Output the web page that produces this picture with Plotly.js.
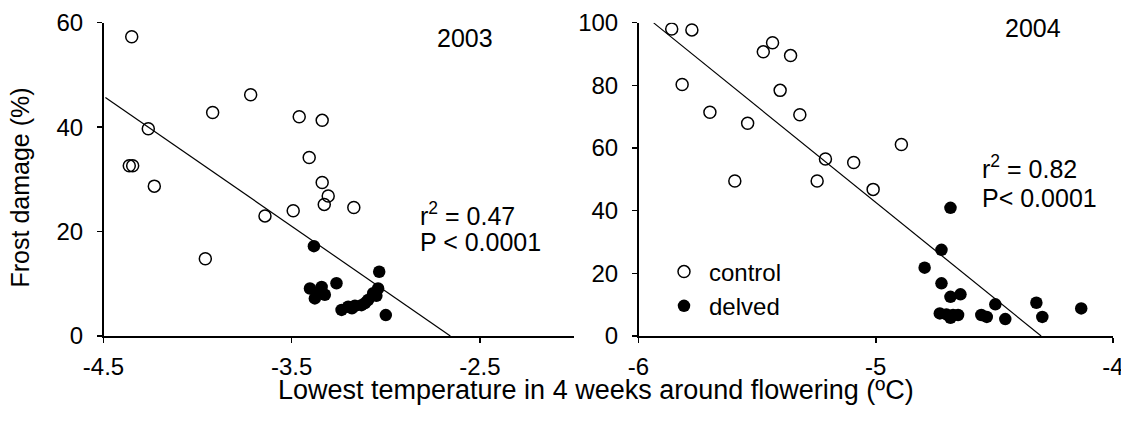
<!DOCTYPE html>
<html><head><meta charset="utf-8">
<script src="https://cdn.plot.ly/plotly-3.0.1.min.js"></script>
<style>html,body{margin:0;padding:0;background:#fff;} #chart{width:1121px;height:429px;}</style>
</head><body><div id="chart"></div>
<script>
// ---- data ----
const control2003X = [-4.35, -4.262, -4.363, -4.345, -4.23, -3.92, -3.718, -3.46, -3.338, -3.407, -3.338, -3.306, -3.327, -3.17, -3.492, -3.642, -3.959];
const control2003Y = [57.3, 39.7, 32.6, 32.6, 28.7, 42.8, 46.2, 42.0, 41.3, 34.2, 29.4, 26.8, 25.2, 24.6, 24.0, 23.0, 14.8];
const delved2003X = [-3.382, -3.035, -3.262, -3.403, -3.341, -3.324, -3.377, -3.36, -3.0, -3.235, -3.2, -3.18, -3.164, -3.129, -3.11, -3.094, -3.067, -3.05, -3.041];
const delved2003Y = [17.2, 12.3, 10.1, 9.1, 9.4, 7.9, 7.2, 8.2, 4.0, 5.0, 5.6, 5.3, 5.8, 5.9, 6.3, 6.9, 8.2, 7.7, 9.1];
const control2004X = [-5.86, -5.775, -5.816, -5.699, -5.54, -5.594, -5.474, -5.435, -5.359, -5.403, -5.32, -5.212, -5.247, -5.093, -5.011, -4.892];
const control2004Y = [98.0, 97.7, 80.3, 71.4, 67.9, 49.5, 90.7, 93.6, 89.5, 78.4, 70.6, 56.5, 49.5, 55.4, 46.8, 61.1];
const delved2004X = [-4.685, -4.723, -4.794, -4.723, -4.685, -4.643, -4.73, -4.702, -4.674, -4.653, -4.685, -4.555, -4.532, -4.496, -4.454, -4.323, -4.298, -4.134];
const delved2004Y = [40.9, 27.5, 21.8, 16.8, 12.5, 13.3, 7.2, 6.9, 6.7, 6.7, 5.8, 6.7, 6.1, 10.1, 5.4, 10.6, 6.1, 8.8];
// regression fits: y = intercept + slope * x, drawn over range
const fit2003 = {slope: -24.93, intercept: -66.24, range: [-4.49, -2.657]};
const fit2004 = {slope: -61.2, intercept: -263.34, range: [-5.936, -4.303]};
const xTicks2003 = [-4.5, -3.5, -2.5];
const xTicks2004 = [-6, -5, -4];
const yTicks2003 = [0, 20, 40, 60];
const yTicks2004 = [0, 20, 40, 60, 80, 100];
const stats2003 = ['r<sup>2</sup> = 0.47', 'P < 0.0001'];
const stats2004 = ['r<sup>2</sup> = 0.82', 'P< 0.0001'];
const seriesNames = ['control', 'delved'];
const years = ['2003', '2004'];
const xTitle = 'Lowest temperature in 4 weeks around flowering (ºC)';
const yTitle = 'Frost damage (%)';

// ---- layout helpers ----
const W = 1121, H = 429;
const px = v => v / W;
const py = v => 1 - v / H;
const FONT = 'Liberation Sans, Arial, sans-serif';

function fitLine(f, xa, ya) {
  return {x: f.range, y: f.range.map(x => f.intercept + f.slope * x), mode: 'lines', type: 'scatter',
    xaxis: xa, yaxis: ya, line: {color: '#000', width: 1.2}, showlegend: false, hoverinfo: 'skip'};
}
const openM = {symbol: 'circle-open', size: 12, color: '#000', line: {width: 1.5, color: '#000'}};
const fillM = {symbol: 'circle', size: 12.5, color: '#000'};

const data = [
  fitLine(fit2003, 'x', 'y'),
  fitLine(fit2004, 'x2', 'y2'),
  {x: control2003X, y: control2003Y, type: 'scatter', mode: 'markers', marker: openM, xaxis: 'x', yaxis: 'y', showlegend: false, name: seriesNames[0]},
  {x: delved2003X, y: delved2003Y, type: 'scatter', mode: 'markers', marker: fillM, xaxis: 'x', yaxis: 'y', showlegend: false, name: seriesNames[1]},
  {x: control2004X, y: control2004Y, type: 'scatter', mode: 'markers', marker: openM, xaxis: 'x2', yaxis: 'y2', showlegend: true, name: seriesNames[0]},
  {x: delved2004X, y: delved2004Y, type: 'scatter', mode: 'markers', marker: fillM, xaxis: 'x2', yaxis: 'y2', showlegend: true, name: seriesNames[1]}
];

const axisBase = {showline: true, linecolor: '#000', linewidth: 1.5, ticks: 'outside', ticklen: 5, tickwidth: 1.5,
  tickcolor: '#000', showgrid: false, zeroline: false, tickfont: {family: FONT, size: 24, color: '#000'},
  fixedrange: true, ticklabeloverflow: 'allow'};
const yDom = [py(336), py(22.7)];

const layout = {
  width: W, height: H, margin: {l: 0, r: 0, t: 0, b: 0, autoexpand: false},
  paper_bgcolor: '#fff', plot_bgcolor: 'rgba(0,0,0,0)',
  font: {family: FONT, color: '#000'},
  xaxis: Object.assign({}, axisBase, {domain: [px(103.5), px(574)], range: [-4.5, -2.0], tickvals: xTicks2003, ticktext: xTicks2003.map(String), anchor: 'y', ticklabelstandoff: 4}),
  yaxis: Object.assign({}, axisBase, {domain: yDom, range: [0, 60], tickvals: yTicks2003, anchor: 'x', ticklabelstandoff: 9}),
  xaxis2: Object.assign({}, axisBase, {domain: [px(638.5), px(1113)], range: [-6, -4], tickvals: xTicks2004, ticktext: xTicks2004.map(String), anchor: 'y2', ticklabelstandoff: 4}),
  yaxis2: Object.assign({}, axisBase, {domain: yDom, range: [0, 100], tickvals: yTicks2004, anchor: 'x2', ticklabelstandoff: 9}),
  showlegend: true,
  legend: {x: px(659), y: py(249.5), xanchor: 'left', yanchor: 'top', bgcolor: 'rgba(0,0,0,0)', borderwidth: 0,
    font: {family: FONT, size: 24, color: '#000'}, itemwidth: 40, tracegroupgap: 0},
  annotations: [
    {text: years[0], x: px(465.3), y: py(37.8), xref: 'paper', yref: 'paper', xanchor: 'center', yanchor: 'middle', showarrow: false, font: {size: 25}},
    {text: years[1], x: px(1033.3), y: py(28.3), xref: 'paper', yref: 'paper', xanchor: 'center', yanchor: 'middle', showarrow: false, font: {size: 25}},
    {text: stats2003[0], x: px(418), y: py(214), xref: 'paper', yref: 'paper', xanchor: 'left', yanchor: 'middle', showarrow: false, font: {size: 25}},
    {text: stats2003[1], x: px(418), y: py(241.7), xref: 'paper', yref: 'paper', xanchor: 'left', yanchor: 'middle', showarrow: false, font: {size: 25}},
    {text: stats2004[0], x: px(980), y: py(166.7), xref: 'paper', yref: 'paper', xanchor: 'left', yanchor: 'middle', showarrow: false, font: {size: 25}},
    {text: stats2004[1], x: px(980), y: py(197.5), xref: 'paper', yref: 'paper', xanchor: 'left', yanchor: 'middle', showarrow: false, font: {size: 25}},
    {text: xTitle, x: px(596), y: py(390), xref: 'paper', yref: 'paper', xanchor: 'center', yanchor: 'middle', showarrow: false, font: {size: 27}},
    {text: yTitle, x: px(19.5), y: py(188), xref: 'paper', yref: 'paper', xanchor: 'center', yanchor: 'middle', textangle: -90, showarrow: false, font: {size: 25}}
  ]
};

Plotly.newPlot('chart', data, layout, {displayModeBar: false, staticPlot: true});
</script>
</body></html>
